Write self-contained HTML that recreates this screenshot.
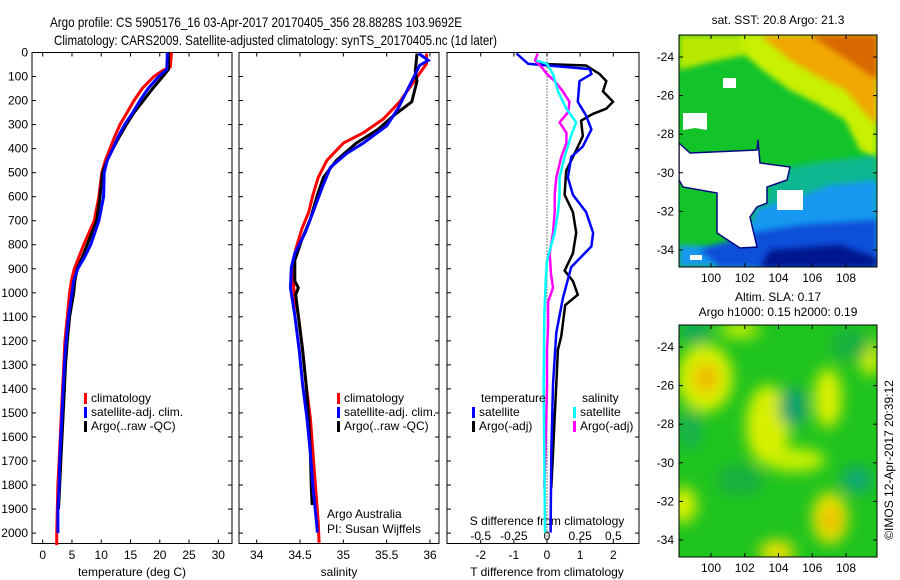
<!DOCTYPE html>
<html><head><meta charset="utf-8"><style>
body{margin:0;background:#fff}
svg{display:block;font-family:"Liberation Sans",sans-serif}
</style></head><body>
<svg id="c" width="900" height="580" viewBox="0 0 900 580">
<defs>
<filter id="bl" x="-50%" y="-50%" width="200%" height="200%"><feGaussianBlur stdDeviation="7"/></filter>
<filter id="bl2" x="-50%" y="-50%" width="200%" height="200%"><feGaussianBlur stdDeviation="3"/></filter>
<clipPath id="cm1"><rect x="679" y="35" width="198" height="232"/></clipPath>
<clipPath id="cm2"><rect x="679" y="325" width="198" height="232"/></clipPath>
</defs>
<text x="50" y="27" font-size="14" textLength="412" lengthAdjust="spacingAndGlyphs">Argo profile: CS 5905176_16 03-Apr-2017 20170405_356 28.8828S 103.9692E</text>
<text x="54" y="45" font-size="14" textLength="443" lengthAdjust="spacingAndGlyphs">Climatology: CARS2009. Satellite-adjusted climatology: synTS_20170405.nc (1d later)</text>

<!-- top map -->
<g>
<g clip-path="url(#cm1)">
<rect x="679" y="35" width="198" height="232" fill="#12c42a"/>
<polygon points="679,35 770,35 745,55 710,62 679,70" fill="#b8e800" filter="url(#bl2)"/>
<polygon points="740,35 877,35 877,160 860,150 845,120 820,105 790,90 765,72 745,55" fill="#c8f000" filter="url(#bl2)"/>
<polygon points="760,35 877,35 877,125 862,110 845,90 815,75 790,60" fill="#f0a800" filter="url(#bl2)"/>
<polygon points="810,35 877,35 877,80 845,58" fill="#d86800" filter="url(#bl2)"/>
<polygon points="770,170 820,162 877,155 877,267 760,267" fill="#10b890" filter="url(#bl2)"/>
<polygon points="757,207 790,200 830,185 877,180 877,267 679,267 679,245 740,248" fill="#1898f0" filter="url(#bl2)"/>
<polygon points="757,232 800,225 877,220 877,267 720,267 700,250" fill="#0a50d8" filter="url(#bl2)"/>
<polygon points="770,250 840,245 877,258 877,267 760,267" fill="#001890" filter="url(#bl2)"/>
<polygon points="679,143 690,153 757,150 758,140 760,163 790,167 787,180 767,187 767,203 757,207 750,217 757,247 740,248 717,233 717,193 683,187 679,180" fill="#fff" stroke="#000a80" stroke-width="1.5"/>
<polygon points="683,113 707,113 707,130 695,128 683,130" fill="#fff"/>
<polygon points="777,190 803,190 803,210 777,210" fill="#fff"/>
<polygon points="723,78 736,78 736,88 723,88" fill="#fff"/>
<polygon points="690,255 702,255 702,260 690,260" fill="#fff"/>
</g>
<rect x="679" y="35" width="198" height="232" fill="none" stroke="#000"/>
</g>
<text x="778" y="24" font-size="12" text-anchor="middle">sat. SST: 20.8 Argo: 21.3</text>

<!-- bottom map -->
<g>
<g clip-path="url(#cm2)">
<rect x="679" y="325" width="198" height="232" fill="#20c41e"/>
<g filter="url(#bl)">
<ellipse cx="705" cy="378" rx="28" ry="34" fill="#d8f000"/>
<ellipse cx="706" cy="378" rx="12" ry="15" fill="#f0b800"/>
<ellipse cx="768" cy="425" rx="22" ry="40" fill="#d8f000"/>
<ellipse cx="795" cy="460" rx="30" ry="12" fill="#c8f000"/>
<ellipse cx="828" cy="398" rx="14" ry="30" fill="#d8f000"/>
<ellipse cx="830" cy="518" rx="18" ry="26" fill="#e8e000"/>
<ellipse cx="831" cy="520" rx="8" ry="10" fill="#f0b000"/>
<ellipse cx="777" cy="552" rx="18" ry="12" fill="#e8e000"/>
<ellipse cx="870" cy="358" rx="10" ry="18" fill="#d8f000"/>
<ellipse cx="683" cy="505" rx="14" ry="18" fill="#d8f000"/>
<ellipse cx="740" cy="330" rx="20" ry="8" fill="#c8f000"/>
<ellipse cx="793" cy="407" rx="14" ry="20" fill="#10a070"/>
<ellipse cx="857" cy="480" rx="16" ry="14" fill="#10a870"/>
<ellipse cx="695" cy="332" rx="16" ry="10" fill="#10a860"/>
<ellipse cx="740" cy="480" rx="24" ry="16" fill="#14b040"/>
<ellipse cx="690" cy="430" rx="12" ry="20" fill="#14b050"/>
<ellipse cx="850" cy="345" rx="20" ry="16" fill="#14b040"/>
</g>
</g>
<rect x="679" y="325" width="198" height="232" fill="none" stroke="#000"/>
</g>
<text x="778" y="301" font-size="12" text-anchor="middle">Altim. SLA: 0.17</text>
<text x="778" y="316" font-size="12" text-anchor="middle">Argo h1000: 0.15 h2000: 0.19</text>
<text transform="translate(893,460) rotate(-90)" font-size="12" text-anchor="middle">©IMOS 12-Apr-2017 20:39:12</text>
<g id="axes"></g>
</svg>
<script>
// ---------- data ----------
const depthClim = [0,60,75,100,150,200,250,300,350,400,450,500,600,700,800,850,900,950,1000,1100,1200,1300,1400,1500,1600,1700,1800,1900,2000,2050];
const tempClim = [22,21.8,20.5,19,17,15.6,14.4,13.2,12.3,11.5,10.7,10.1,9.6,8.8,7.0,6.2,5.4,4.9,4.6,4.2,3.8,3.6,3.4,3.2,3.0,2.8,2.6,2.5,2.4,2.4];
const depthSat = [0,70,100,150,200,250,300,350,400,450,500,600,700,800,850,900,950,1000,1100,1200,1300,1400,1500,1600,1700,1800,1900,2000];
const tempSat = [21.3,21.2,19.8,18,16.6,15.4,14,12.9,12,11,10.5,10.4,9.6,8.2,7.2,6,5.3,5,4.4,4,3.7,3.5,3.3,3.1,2.9,2.8,2.6,2.6];
const depthArgo = [0,70,100,150,200,250,300,350,400,450,500,600,700,800,850,900,950,1000,1100,1200,1300,1400,1500,1600,1700,1800,1900];
const tempArgo = [21.5,21.5,20.5,18.8,17.2,15.6,14.3,13.1,12,11,10.2,9.8,9.2,7.6,6.8,5.9,5.5,5.3,4.6,4.2,3.9,3.7,3.5,3.3,3.1,2.9,2.7];

const salDepthClim = [4,47,133,205,277,334,377,449,520,592,664,735,807,865,951,1022,1094,1238,1381,1524,1668,1811,1954,2040];
const salClim = [35.96,35.96,35.79,35.65,35.46,35.23,35.0,34.81,34.71,34.65,34.6,34.52,34.46,34.42,34.42,34.44,34.48,34.53,34.57,34.62,34.65,34.68,34.71,34.72];
const salDepthSat = [4,33,54,133,234,305,377,420,478,549,664,750,836,893,979,1094,1238,1381,1524,1668,1811,1954,1998];
const salSat = [35.87,35.98,35.88,35.77,35.63,35.5,35.23,35.04,34.85,34.77,34.65,34.56,34.44,34.4,34.39,34.44,34.49,34.53,34.58,34.62,34.65,34.69,34.7];
const salDepthArgo = [4,76,119,205,262,320,377,449,520,592,693,779,865,951,979,1008,1094,1238,1381,1524,1668,1811,1883];
const salArgo = [35.85,35.83,35.85,35.79,35.58,35.4,35.15,34.92,34.77,34.7,34.62,34.52,34.44,34.44,34.48,34.45,34.48,34.53,34.57,34.6,34.62,34.63,34.64];

const dDepthTSat = [4,47,69,90,119,205,262,320,391,435,520,592,664,750,807,893,1022,1166,1381,1668,1998];
const dTSat = [-0.92,-0.57,1.29,1.34,0.98,0.93,1.18,1.34,1.08,0.73,0.63,0.78,1.18,1.39,1.34,0.73,0.48,0.28,0.18,0.13,0.11];
const dDepthTArgo = [47,54,90,119,162,205,234,255,284,348,406,492,592,664,750,836,908,951,1008,1051,1180,1237,1381,1524,1668,1811];
const dTArgo = [-0.32,1.18,1.59,1.79,1.69,1.99,1.79,1.39,1.03,1.08,0.88,0.58,0.53,0.78,0.88,0.78,0.53,0.78,0.93,0.55,0.43,0.33,0.28,0.23,0.18,0.13];
const dDepthSSat = [33,47,90,162,234,291,348,435,520,592,664,750,865,951,1094,1381,1668,1998];
const dSSat = [-0.08,0,0.045,0.083,0.146,0.22,0.18,0.133,0.095,0.095,0.083,0.058,0,-0.01,-0.02,-0.025,-0.02,-0.015];
const dDepthSArgo = [4,33,61,90,119,162,205,248,291,334,377,435,520,592,664,750,836,922,979,1037,1137,1237,1381,1524,1811];
const dSArgo = [-0.07,-0.09,-0.04,0,0.058,0.12,0.17,0.16,0.095,0.146,0.146,0.108,0.07,0.058,0.058,0.045,0.02,0.03,0.045,0.008,0.008,0,0,-0.005,-0.02];

const depthTicks = [0,100,200,300,400,500,600,700,800,900,1000,1100,1200,1300,1400,1500,1600,1700,1800,1900,2000];
const tempTicks = [0,5,10,15,20,25,30];
const salTicks = [34,34.5,35,35.5,36];
const tdTicks = [-2,-1,0,1,2];
const sdTicks = [-0.5,-0.25,0,0.25,0.5];
const lonTicks = [100,102,104,106,108];
const latTicks = [-24,-26,-28,-30,-32,-34];

// ---------- helpers ----------
const NS='http://www.w3.org/2000/svg';
const root=document.getElementById('axes');
function mk(tag,attrs,parent){const e=document.createElementNS(NS,tag);for(const k in attrs)e.setAttribute(k,attrs[k]);(parent||root).appendChild(e);return e;}
const Y0=52.5, YB=543.5;
const yD=d=>Y0+d*0.2403;
function lin(d0,d1,r0,r1){return v=>r0+(v-d0)*(r1-r0)/(d1-d0);}

const panels=[
 {x0:32,x1:232,name:'temperature-panel'},
 {x0:239,x1:439,name:'salinity-panel'},
 {x0:447,x1:639,name:'difference-panel'}
];
const xT=lin(0,30,42.7,218.3);
const xS=lin(34,36,256.7,430);
const xTD=lin(-2,2,480.7,613.3);
const xSD=lin(-0.5,0.5,480.7,613.3);

function line(xs,ds,xf,color,w,name,parent){
  const pts=xs.map((v,i)=>xf(v).toFixed(1)+','+yD(ds[i]).toFixed(1)).join(' ');
  const p=mk('polyline',{points:pts,fill:'none',stroke:color,'stroke-width':w,'stroke-linejoin':'miter'},parent);
  
  
}
function txt(x,y,s,size,anchor,name){
  const t=mk('text',{x:x,y:y,'font-size':size,'text-anchor':anchor||'start'});
  t.textContent=s;
  
  
  return t;
}

panels.forEach(p=>{
  const g=mk('rect',{x:p.x0,y:Y0,width:p.x1-p.x0,height:YB-Y0,fill:'none',stroke:'#000','stroke-width':1});
  
  
  depthTicks.forEach(d=>{
    mk('line',{x1:p.x0,x2:p.x0+4,y1:yD(d),y2:yD(d),stroke:'#000'});
    mk('line',{x1:p.x1,x2:p.x1-4,y1:yD(d),y2:yD(d),stroke:'#000'});
  });
});
depthTicks.forEach(d=>txt(28,yD(d)+4,String(d),12,'end','depth-tick-label'));

// x ticks
tempTicks.forEach(v=>{mk('line',{x1:xT(v),x2:xT(v),y1:YB,y2:YB-4,stroke:'#000'});mk('line',{x1:xT(v),x2:xT(v),y1:Y0,y2:Y0+4,stroke:'#000'});txt(xT(v),559,String(v),12,'middle','temp-tick-label');});
salTicks.forEach(v=>{mk('line',{x1:xS(v),x2:xS(v),y1:YB,y2:YB-4,stroke:'#000'});mk('line',{x1:xS(v),x2:xS(v),y1:Y0,y2:Y0+4,stroke:'#000'});txt(xS(v),559,String(v),12,'middle','salinity-tick-label');});
tdTicks.forEach(v=>{mk('line',{x1:xTD(v),x2:xTD(v),y1:YB,y2:YB-4,stroke:'#000'});mk('line',{x1:xTD(v),x2:xTD(v),y1:Y0,y2:Y0+4,stroke:'#000'});txt(xTD(v),559,String(v),12,'middle','tdiff-tick-label');});
sdTicks.forEach(v=>txt(xSD(v),540,String(v),12,'middle','sdiff-tick-label'));
txt(132,576,'temperature (deg C)',12,'middle','temp-axis-title');
txt(339,576,'salinity',12,'middle','salinity-axis-title');
txt(547,576,'T difference from climatology',12,'middle','tdiff-axis-title');
txt(547,525,'S difference from climatology',12,'middle','sdiff-axis-title');

// zero dotted line
mk('line',{x1:xTD(0),x2:xTD(0),y1:Y0,y2:YB,stroke:'#000','stroke-dasharray':'1,2'});

// series
line(tempClim,depthClim,xT,'#ff0000',3,'temp-climatology-line');
line(tempArgo,depthArgo,xT,'#000000',3,'temp-argo-line');
line(tempSat,depthSat,xT,'#0000ff',3,'temp-satellite-line');
line(salClim,salDepthClim,xS,'#ff0000',3,'salinity-climatology-line');
line(salArgo,salDepthArgo,xS,'#000000',3,'salinity-argo-line');
line(salSat,salDepthSat,xS,'#0000ff',3,'salinity-satellite-line');
line(dTArgo,dDepthTArgo,xTD,'#000000',2.5,'tdiff-argo-line');
line(dTSat,dDepthTSat,xTD,'#0000ff',2.5,'tdiff-satellite-line');
line(dSArgo,dDepthSArgo,xSD,'#ff00ff',2.5,'sdiff-argo-line');
line(dSSat,dDepthSSat,xSD,'#00ffff',2.5,'sdiff-satellite-line');

// legends
function leg(x,y,color,label){
  const r=mk('rect',{x:x,y:y-9,width:3,height:11,fill:color});
  
  
  txt(x+7,y,label,12,'start','legend-entry');
}
leg(84,402,'#ff0000','climatology');leg(84,416,'#0000ff','satellite-adj. clim.');leg(84,430,'#000','Argo(..raw -QC)');
leg(337,402,'#ff0000','climatology');leg(337,416,'#0000ff','satellite-adj. clim.');leg(337,430,'#000','Argo(..raw -QC)');
txt(481,402,'temperature',12,'start','legend-heading-temperature');
txt(582,402,'salinity',12,'start','legend-heading-salinity');
leg(472,416,'#0000ff','satellite');leg(472,430,'#000','Argo(-adj)');
leg(573,416,'#00ffff','satellite');leg(573,430,'#ff00ff','Argo(-adj)');
txt(327,518,'Argo Australia',12,'start','credit-argo-australia');
txt(327,533,'PI: Susan Wijffels',12,'start','credit-pi');

// map axes
const xLon=lin(100,108,711,846), yLat=lin(-24,-34,57,250);
[[35,267],[325,557]].forEach(([t,b],mi)=>{
  lonTicks.forEach(v=>{mk('line',{x1:xLon(v),x2:xLon(v),y1:b,y2:b-4,stroke:'#000'});mk('line',{x1:xLon(v),x2:xLon(v),y1:t,y2:t+4,stroke:'#000'});txt(xLon(v),b+15,String(v),12,'middle','lon-tick-label');});
  latTicks.forEach(v=>{const y=yLat(v)+(t-35);mk('line',{x1:679,x2:683,y1:y,y2:y,stroke:'#000'});mk('line',{x1:877,x2:873,y1:y,y2:y,stroke:'#000'});txt(674,y+4,String(v),12,'end','lat-tick-label');});
});
</script>
</body></html>
